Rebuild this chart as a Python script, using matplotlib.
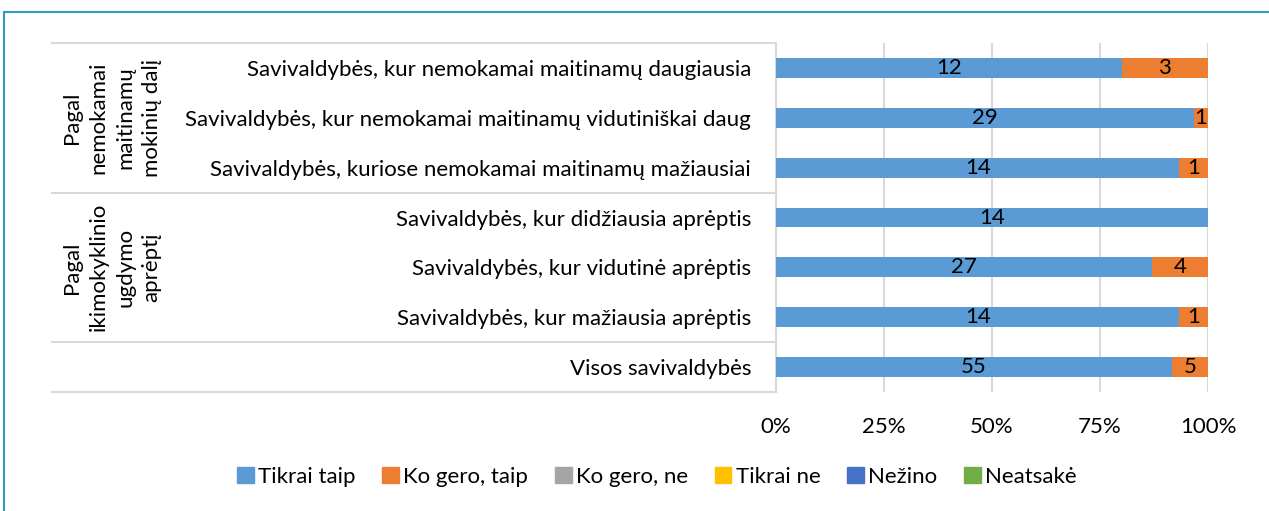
import matplotlib.pyplot as plt
from matplotlib.lines import Line2D
import numpy as np

# data
categories = [
    'Savivaldybės, kur nemokamai maitinamų daugiausia',
    'Savivaldybės, kur nemokamai maitinamų vidutiniškai daug',
    'Savivaldybės, kuriose nemokamai maitinamų mažiausiai',
    'Savivaldybės, kur didžiausia aprėptis',
    'Savivaldybės, kur vidutinė aprėptis',
    'Savivaldybės, kur mažiausia aprėptis',
    'Visos savivaldybės',
]
tikrai_taip = [12, 29, 14, 14, 27, 14, 55]
ko_gero_taip = [3, 1, 1, 0, 4, 1, 5]
ko_gero_ne = [0, 0, 0, 0, 0, 0, 0]
tikrai_ne = [0, 0, 0, 0, 0, 0, 0]
nezino = [0, 0, 0, 0, 0, 0, 0]
neatsake = [0, 0, 0, 0, 0, 0, 0]

series_names = ['Tikrai taip', 'Ko gero, taip', 'Ko gero, ne', 'Tikrai ne', 'Nežino', 'Neatsakė']
colors = ['#5b9bd5', '#ed7d31', '#a5a5a5', '#ffc000', '#4472c4', '#70ad47']

groups = ['Pagal\nnemokamai\nmaitinamų\nmokinių dalį', 'Pagal\nikimokyklinio\nugdymo\naprėptį']
group_centers = [1, 4]
group_bounds = [-0.5, 2.5, 5.5, 6.5]

plt.rcParams['font.family'] = ['Lato', 'DejaVu Sans']
FS = 16

series = np.array([tikrai_taip, ko_gero_taip, ko_gero_ne, tikrai_ne, nezino, neatsake], dtype=float)
totals = series.sum(axis=0)
shares = series / totals

fig = plt.figure(figsize=(12.69, 5.11), dpi=100)
ax = fig.add_axes([776 / 1269, 1 - 392 / 511, 432 / 1269, 349 / 511])

y = np.arange(len(categories))
left = np.zeros(len(categories))
for i, name in enumerate(series_names):
    bars = ax.barh(y, shares[i], left=left, height=0.4, color=colors[i], label=name, zorder=3)
    for j, b in enumerate(bars):
        if series[i, j] > 0:
            ax.text(left[j] + shares[i, j] / 2, y[j], '%d' % series[i, j],
                    ha='center', va='center', fontsize=FS, color='#000000', zorder=4)
    left += shares[i]

ax.set_xlim(0, 1)
ax.set_ylim(6.5, -0.5)
ax.set_xticks([0, 0.25, 0.5, 0.75, 1])
ax.set_xticklabels(['0%', '25%', '50%', '75%', '100%'], fontsize=FS)
ax.set_yticks(y)
ax.set_yticklabels(categories, fontsize=FS)
ax.tick_params(length=0)
ax.tick_params(axis='y', pad=18)
ax.tick_params(axis='x', pad=18)
ax.grid(axis='x', color='#d9d9d9', linewidth=1.5, zorder=0)
for s in ['top', 'right', 'bottom']:
    ax.spines[s].set_visible(False)
ax.spines['left'].set_color('#d9d9d9')
ax.spines['left'].set_linewidth(1.5)

# group separators and labels on the category axis
tr = ax.get_yaxis_transform()
x0 = (52 - 776) / 432
for b in group_bounds:
    ax.plot([x0, 0], [b, b], transform=tr, color='#d9d9d9', linewidth=1.5, clip_on=False)
gx = (112 - 776) / 432
for g, c in zip(groups, group_centers):
    ax.text(gx, c, g, transform=tr, rotation=90, ha='center', va='center',
            multialignment='center', fontsize=FS, linespacing=1.4)

handles = [plt.Rectangle((0, 0), 1, 1, color=c) for c in colors]
fig.legend(handles, series_names, loc='center', bbox_to_anchor=(657 / 1269, 1 - 477 / 511),
           ncol=6, frameon=False, fontsize=FS, handlelength=0.75, handleheight=0.75,
           handletextpad=0.2, columnspacing=1.2)

# frame around the chart
bc = '#2f9bc1'
fig.add_artist(Line2D([4 / 1269, 1], [1 - 12 / 511, 1 - 12 / 511], color=bc, linewidth=1.5))
fig.add_artist(Line2D([4 / 1269, 4 / 1269], [0, 1 - 12 / 511], color=bc, linewidth=1.5))

fig.savefig('out.png', dpi=100)
